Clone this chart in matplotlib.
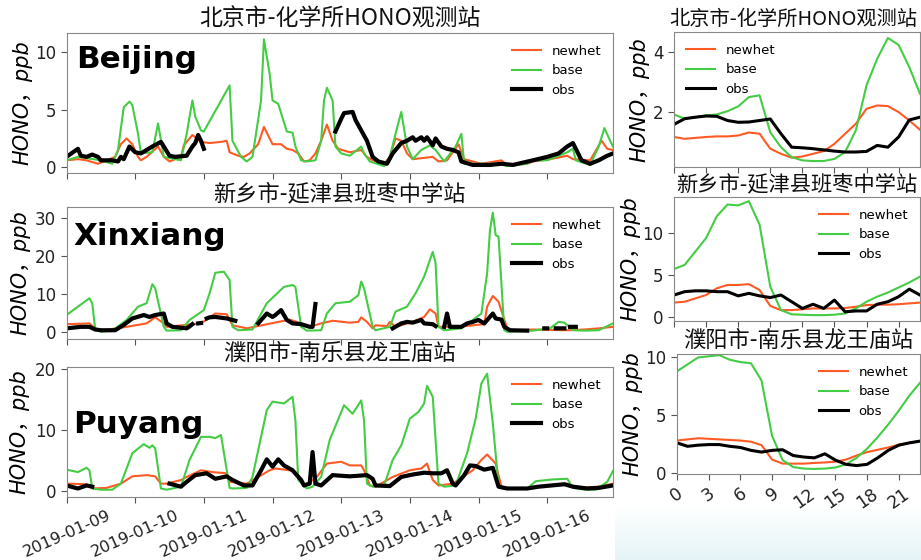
import numpy as np
import pandas as pd
import matplotlib
matplotlib.use("Agg")
import matplotlib.pyplot as plt
import matplotlib.dates as mdates

plt.rcParams['font.family'] = ['DejaVu Sans', 'Noto Sans CJK SC']
plt.rcParams['axes.unicode_minus'] = False

nan = np.nan
START = pd.Timestamp('2019-01-09 00:00')

# ---- hourly series (hours since 2019-01-09 00:00) ----
bj_base_h = [0, 4, 12, 16, 18, 20, 22, 23, 25, 26, 30, 32, 34, 40, 42, 44, 45, 47, 48, 57, 58, 61, 63, 65,
             68, 69, 71, 72, 74, 75, 77, 79, 80, 82, 84, 87, 89, 90, 91, 93, 94, 96, 99, 103, 104, 106,
             111, 113, 115, 117, 119, 121, 124, 127, 129, 132, 136, 138, 139, 145, 152, 154, 161, 163,
             168, 175, 177, 178, 183, 186, 188, 190, 191]
bj_base_v = [0.6, 0.9, 0.6, 0.3, 1.5, 5.2, 5.7, 5.4, 2.9, 1.2, 1.3, 3.8, 0.9, 0.6, 2.9, 5.8, 4.4, 3.2, 3.1, 7.1,
             2.3, 0.9, 0.5, 0.9, 5.8, 11.1, 8.1, 5.8, 5.5, 4.7, 3.1, 3.0, 1.8, 0.6, 0.5, 0.6, 2.3, 5.8, 6.9,
             5.8, 1.8, 1.2, 1.0, 1.8, 1.2, 0.5, 0.1, 0.9, 2.9, 4.8, 1.8, 0.7, 1.5, 1.9, 1.5, 0.5, 1.8, 2.9,
             0.3, 0.3, 0.3, 0.1, 0.3, 0.6, 0.6, 1.3, 1.6, 0.6, 0.2, 1.8, 3.4, 2.3, 1.8]
bj_new_h = [0, 4, 7, 11, 14, 17, 19, 21, 23, 25, 26, 28, 32, 34, 36, 40, 41, 44, 47, 50, 54, 56, 57, 60, 62,
            64, 67, 69, 72, 75, 77, 79, 81, 83, 85, 87, 89, 91, 93, 95, 99, 103, 105, 107, 111, 113, 115,
            117, 119, 121, 128, 130, 133, 137, 139, 145, 152, 154, 161, 163, 169, 175, 177, 183, 187, 189, 191]
bj_new_v = [0.6, 0.7, 0.6, 0.3, 0.6, 0.9, 2.0, 2.5, 2.0, 0.9, 0.6, 0.9, 1.8, 0.9, 0.5, 0.9, 1.9, 2.8, 2.2,
            2.1, 2.2, 2.3, 1.3, 1.0, 0.9, 1.2, 2.0, 3.5, 2.0, 2.0, 1.6, 1.5, 1.2, 0.5, 0.6, 1.2, 2.3, 3.7,
            2.3, 1.6, 1.3, 1.5, 0.9, 0.6, 0.3, 0.9, 2.5, 2.3, 1.2, 0.7, 0.9, 0.5, 0.6, 2.0, 0.7, 0.3, 0.6,
            0.2, 0.3, 0.5, 0.7, 1.0, 0.7, 0.6, 2.3, 1.6, 1.5]
bj_obs_h = [0, 4, 5, 7, 9, 11, 12, 16, 18, 19, 20, 22, 24, 26, 28, 30, 33, 34, 36, 38, 42, 44, 45, 46, 47,
            48, 49, 93, 94, 96, 97, 100, 101, 103, 105, 107, 109, 112, 114, 116, 117, 119, 121, 122, 124,
            125, 126, 128, 129, 131, 133, 135, 137, 138, 142, 148, 152, 156, 163, 168, 172, 175, 177, 178,
            180, 183, 186, 189, 191]
bj_obs_v = [0.9, 1.6, 1.0, 0.9, 1.1, 0.9, 0.6, 0.6, 0.5, 0.9, 0.7, 1.8, 1.3, 1.2, 1.5, 1.8, 2.2, 1.8, 1.0,
            0.9, 1.0, 1.8, 2.1, 2.8, 2.3, 1.6, nan, nan, 3.1, 4.2, 4.7, 4.8, 4.1, 3.2, 2.3, 0.9, 0.5, 0.3,
            1.2, 1.8, 2.1, 2.3, 2.6, 2.3, 2.6, 2.3, 2.6, 1.9, 2.5, 1.8, 1.6, 1.5, 1.3, 0.5, 0.2, 0.2, 0.3,
            0.2, 0.6, 0.9, 1.2, 1.8, 2.1, 1.6, 0.6, 0.3, 0.6, 1.0, 1.2]

xx_base_h = [0, 8, 9, 10, 12, 16, 21, 25, 28, 30, 31, 34, 35, 40, 43, 48, 50, 52, 55, 57, 58, 60, 65, 70,
             76, 79, 80, 82, 84, 89, 91, 94, 99, 102, 103, 104, 107, 108, 113, 115, 119, 122, 125, 128,
             129, 130, 132, 138, 142, 145, 147, 148, 149, 150, 151, 153, 154, 163, 169, 172, 174, 177,
             181, 186, 191]
xx_base_v = [4.5, 8.9, 7.6, 1.0, 0.1, 0.4, 3.2, 6.7, 7.6, 12.6, 11.5, 1.4, 0.4, 0.5, 3.2, 5.8, 10.2, 15.6,
             15.9, 13.7, 1.4, 0.5, 0.7, 7.6, 11.9, 12.4, 11.9, 1.4, 0.4, 0.5, 4.9, 7.6, 8.0, 9.7, 13.3,
             11.5, 1.4, 0.5, 1.4, 5.4, 6.7, 10.2, 14.6, 21.1, 18.1, 1.4, 0.5, 1.0, 3.2, 4.9, 15.4, 26.8,
             31.4, 25.5, 25.1, 0.5, 0.1, 0.4, 1.0, 2.7, 2.5, 0.5, 0.4, 0.5, 2.3]
xx_new_h = [0, 8, 10, 12, 21, 28, 31, 34, 35, 47, 52, 56, 58, 63, 78, 82, 85, 89, 93, 99, 102, 103, 105,
            107, 108, 112, 113, 115, 121, 125, 127, 129, 130, 137, 142, 146, 147, 149, 151, 154, 156, 163,
            175, 181, 186, 191]
xx_new_v = [2.1, 2.3, 1.0, 0.4, 1.4, 2.3, 3.9, 2.3, 1.4, 2.3, 4.9, 4.7, 1.8, 1.0, 3.3, 2.3, 1.4, 2.3, 3.0,
            2.5, 2.7, 3.9, 2.7, 1.0, 1.8, 1.6, 2.7, 1.4, 2.7, 4.0, 6.0, 4.9, 1.4, 1.4, 1.8, 2.1, 6.7, 9.5,
            8.0, 1.0, 0.4, 0.7, 0.5, 0.7, 1.0, 1.4]
xx_obs_h = [0, 5, 8, 10, 12, 17, 20, 23, 27, 29, 31, 34, 35, 37, 42, 43, 44, 45, 46, 47, 48, 49, 50, 52,
            56, 59, 60, 67, 70, 72, 73, 75, 77, 79, 82, 85, 86, 87, 88, 114, 117, 119, 121, 124, 125, 128,
            129, 130, 132, 133, 134, 138, 140, 142, 144, 146, 149, 150, 152, 153, 155, 161, 162, 167, 168,
            169, 171, 174, 175, 176, 178, 179]
xx_obs_v = [1.0, 1.4, 1.4, 0.7, 0.5, 0.5, 1.9, 3.6, 4.5, 4.0, 4.5, 4.9, 2.3, 1.4, 1.0, 1.5, 2.1, nan, 2.3,
            2.4, nan, 3.6, 3.9, 4.0, 3.6, 3.0, nan, 2.3, 4.9, 4.0, 4.5, 5.8, 3.2, 2.3, 2.1, 1.4, 1.4, 7.4,
            nan, 1.0, 2.3, 2.7, 2.5, 3.2, 2.3, 2.1, 1.6, nan, 1.4, 4.9, 1.4, 1.4, 2.3, 2.7, 3.2, 2.3, 4.9,
            3.6, 3.3, 1.4, 0.5, 0.4, nan, 1.0, 1.0, nan, 1.0, 1.0, nan, 1.4, 1.4, nan]

py_base_h = [0, 4, 7, 8, 9, 12, 16, 19, 23, 27, 29, 30, 31, 33, 35, 40, 43, 47, 50, 52, 54, 56, 57, 58, 63,
             65, 70, 72, 76, 79, 80, 81, 84, 86, 89, 92, 97, 100, 103, 104, 105, 107, 111, 114, 117, 120,
             123, 125, 126, 128, 130, 132, 136, 140, 143, 145, 147, 149, 151, 153, 161, 164, 170, 175, 177,
             181, 185, 189, 191]
py_base_v = [3.5, 3.1, 3.8, 3.4, 0.4, 0.2, 0.2, 1.2, 6.2, 7.7, 7.1, 7.5, 7.0, 0.4, 0.2, 0.7, 5.1, 8.9, 8.9,
             8.7, 9.2, 3.4, 0.5, 0.4, 0.5, 2.3, 13.3, 14.7, 14.4, 15.5, 11.6, 1.8, 0.4, 0.7, 2.3, 8.4, 14.1,
             12.7, 14.9, 11.6, 1.2, 0.7, 0.9, 5.1, 7.5, 11.9, 13.0, 14.4, 17.3, 15.5, 1.2, 0.7, 0.9, 6.2,
             11.9, 17.7, 19.3, 11.1, 0.9, 0.4, 0.4, 1.6, 1.9, 2.0, 0.5, 0.2, 0.2, 1.5, 3.3]
py_new_h = [0, 7, 9, 14, 19, 23, 28, 31, 33, 35, 40, 42, 47, 51, 56, 57, 63, 66, 71, 73, 78, 79, 82, 83,
            85, 87, 91, 96, 99, 103, 104, 106, 108, 114, 120, 124, 126, 128, 130, 135, 142, 145, 147, 150,
            152, 155, 163, 175, 178, 186, 191]
py_new_v = [1.2, 1.1, 0.4, 0.5, 1.2, 2.4, 2.6, 2.4, 1.2, 1.2, 1.8, 2.3, 3.4, 3.1, 2.9, 1.5, 1.2, 2.0, 3.4,
            3.7, 3.4, 3.3, 1.5, 0.9, 1.5, 2.0, 4.5, 4.8, 4.2, 4.2, 3.4, 0.9, 0.7, 2.3, 3.4, 3.7, 4.5, 1.8,
            0.9, 1.2, 3.4, 5.1, 6.0, 4.5, 0.7, 0.4, 0.5, 1.2, 0.5, 0.7, 1.2]
py_obs_h = [0, 4, 7, 9, 10, 36, 40, 42, 45, 49, 52, 56, 58, 62, 65, 68, 70, 72, 74, 76, 79, 82, 83, 85, 86,
            87, 89, 93, 99, 105, 107, 108, 113, 117, 121, 125, 128, 131, 133, 135, 136, 139, 141, 143, 146,
            149, 151, 154, 161, 165, 174, 177, 182, 186, 191]
py_obs_v = [0.9, 0.4, 0.9, 0.7, nan, 1.2, 0.7, 1.5, 2.6, 2.9, 2.0, 2.4, 1.8, 0.9, 0.9, 3.4, 5.2, 4.0, 5.2,
            4.2, 3.4, 1.8, 0.9, 1.2, 6.4, 1.2, 0.9, 2.6, 2.4, 2.6, 2.0, 0.9, 0.8, 2.3, 2.7, 3.0, 2.9, 2.9,
            3.4, 1.2, 0.9, 2.6, 4.2, 4.1, 3.5, 3.8, 0.7, 0.4, 0.4, 0.7, 1.1, 0.7, 0.4, 0.5, 0.9]

# ---- diurnal means, hour 0..23 ----
hours = list(range(24))
bj_d_new = [1.17, 1.11, 1.14, 1.17, 1.19, 1.19, 1.22, 1.32, 1.28, 0.78, 0.61, 0.48, 0.52, 0.61, 0.70,
            0.94, 1.28, 1.61, 2.11, 2.22, 2.20, 2.00, 1.72, 1.41]
bj_d_base = [1.92, 1.78, 1.83, 1.89, 1.92, 2.03, 2.19, 2.50, 2.56, 1.33, 0.83, 0.50, 0.39, 0.37, 0.37,
             0.44, 0.67, 1.39, 2.89, 3.78, 4.47, 4.24, 3.50, 2.61]
bj_d_obs = [1.59, 1.78, 1.83, 1.87, 1.86, 1.72, 1.66, 1.67, 1.72, 1.77, 1.28, 0.83, 0.81, 0.78, 0.74,
            0.70, 0.67, 0.67, 0.69, 0.89, 0.83, 1.17, 1.74, 1.83]
xx_d_new = [1.7, 1.8, 2.2, 2.6, 3.4, 3.8, 3.8, 3.9, 3.2, 1.3, 0.8, 0.8, 0.9, 1.0, 1.0, 1.0, 1.05, 1.2,
            1.4, 1.45, 1.45, 1.5, 1.6, 1.7]
xx_d_base = [5.7, 6.2, 7.8, 9.4, 12.0, 13.4, 13.3, 13.8, 11.0, 3.6, 0.8, 0.3, 0.25, 0.2, 0.2, 0.25, 0.4,
             1.0, 1.8, 2.4, 2.9, 3.5, 4.1, 4.8]
xx_d_obs = [2.6, 3.0, 3.1, 3.1, 3.0, 3.0, 2.5, 2.8, 2.5, 2.3, 2.6, 1.8, 1.0, 1.5, 1.0, 2.0, 0.6, 0.7, 0.7,
            1.5, 1.8, 2.4, 3.3, 2.6]
py_d_new = [2.8, 2.9, 3.0, 2.95, 2.9, 2.85, 2.8, 2.7, 2.4, 1.15, 0.8, 0.8, 0.8, 0.86, 0.9, 0.97, 1.15,
            1.5, 1.8, 2.0, 2.2, 2.45, 2.6, 2.75]
py_d_base = [8.8, 9.4, 10.0, 10.1, 10.2, 9.8, 9.6, 9.5, 8.0, 3.2, 1.1, 0.5, 0.37, 0.34, 0.37, 0.46, 0.74,
             1.3, 2.1, 3.1, 4.2, 5.4, 6.7, 7.8]
py_d_obs = [2.6, 2.3, 2.4, 2.45, 2.45, 2.3, 2.2, 1.95, 1.8, 1.95, 2.0, 1.5, 1.37, 1.3, 1.65, 1.1, 0.74,
            0.63, 0.74, 1.3, 1.95, 2.4, 2.6, 2.75]

titles_bj = '北京市-化学所HONO观测站'
titles_xx = '新乡市-延津县班枣中学站'
titles_py = '濮阳市-南乐县龙王庙站'
city_names = ['Beijing', 'Xinxiang', 'Puyang']

C_NEW = '#ff5a24'
C_BASE = '#44cc44'
C_OBS = 'black'
W, H = 921, 560
CJK = ['Noto Sans CJK SC', 'DejaVu Sans']


def box(l, t, r, b):
    return [l / W, 1 - b / H, (r - l) / W, (b - t) / H]


def to_time(h):
    return START + pd.to_timedelta(np.array(h, dtype=float), unit='h')


def style(ax, title, tsize, labx, tx=0.5):
    for s in ax.spines.values():
        s.set_color('#888888')
    ax.tick_params(colors='#555555', labelcolor='#222222', labelsize=12, length=4)
    ax.set_title(title, family=CJK, fontsize=tsize, pad=5, color='#111111', x=tx)
    ax.set_ylabel('HONO，ppb', fontsize=15, style='italic', family=['DejaVu Sans', 'Noto Sans CJK SC'])
    ax.yaxis.set_label_coords(labx, 0.5)


fig = plt.figure(figsize=(W / 100, H / 100), dpi=100)

# faint gradient at the bottom right
gax = fig.add_axes(box(615, 505, 921, 560), zorder=-5)
grad = np.linspace(0, 1, 50)[:, None, None]
top_c = np.array([1.0, 1.0, 1.0])
bot_c = np.array([0.90, 0.955, 0.965])
gax.imshow(top_c + (bot_c - top_c) * grad, aspect='auto', extent=[0, 1, 0, 1], origin='upper')
gax.axis('off')

left_boxes = [box(66.5, 33, 613, 173), box(66.5, 207, 613, 339), box(66.5, 367, 613, 497)]
left_data = [
    (bj_new_h, bj_new_v, bj_base_h, bj_base_v, bj_obs_h, bj_obs_v),
    (xx_new_h, xx_new_v, xx_base_h, xx_base_v, xx_obs_h, xx_obs_v),
    (py_new_h, py_new_v, py_base_h, py_base_v, py_obs_h, py_obs_v),
]
left_ylim = [(-0.5, 11.65), (-1.8, 32.9), (-1.0, 20.4)]
left_yticks = [[0, 5, 10], [0, 10, 20, 30], [0, 10, 20]]
left_titles = [(titles_bj, 16.5), (titles_xx, 16), (titles_py, 16.2)]
left_labx = [-0.062, -0.066, -0.068]
name_pos = [(76, 68), (73, 245), (73, 433)]

for i in range(3):
    ax = fig.add_axes(left_boxes[i])
    nh, nv, bh, bv, oh, ov = left_data[i]
    ax.plot(to_time(nh), nv, color=C_NEW, lw=1.5, label='newhet')
    ax.plot(to_time(bh), bv, color=C_BASE, lw=1.5, label='base')
    ax.plot(to_time(oh), ov, color=C_OBS, lw=3, label='obs')
    ax.set_xlim(START, START + pd.Timedelta(hours=191))
    ax.set_ylim(*left_ylim[i])
    ax.set_yticks(left_yticks[i])
    ax.xaxis.set_major_locator(mdates.DayLocator())
    ax.xaxis.set_major_formatter(mdates.DateFormatter('%Y-%m-%d'))
    style(ax, left_titles[i][0], left_titles[i][1], left_labx[i])
    if i < 2:
        ax.tick_params(axis='x', labelbottom=False)
    else:
        plt.setp(ax.get_xticklabels(), rotation=24, ha='center', fontsize=11.7)
    ax.legend(loc='upper right', frameon=False, fontsize=9.5, handlelength=2.2)
    fig.text(name_pos[i][0] / W, 1 - name_pos[i][1] / H, city_names[i], fontsize=22.3,
             fontweight='bold', color='black', va='baseline', ha='left')

right_boxes = [box(674, 32, 920, 167), box(674, 197, 920, 321), box(677, 354, 920, 474)]
right_data = [
    (bj_d_new, bj_d_base, bj_d_obs),
    (xx_d_new, xx_d_base, xx_d_obs),
    (py_d_new, py_d_base, py_d_obs),
]
right_ylim = [(0.17, 4.67), (-0.5, 14.3), (-0.1, 10.3)]
right_yticks = [[2, 4], [0, 5, 10], [0, 5, 10]]
right_titles = [(titles_bj, 14.6, 0.485), (titles_xx, 15.3, 0.5), (titles_py, 16, 0.5)]
right_labx = [-0.098, -0.138, -0.144]
right_leg = ['upper left', 'upper right', 'upper right']

for i in range(3):
    ax = fig.add_axes(right_boxes[i])
    nv, bv, ov = right_data[i]
    ax.plot(hours, nv, color=C_NEW, lw=1.5, label='newhet')
    ax.plot(hours, bv, color=C_BASE, lw=1.5, label='base')
    ax.plot(hours, ov, color=C_OBS, lw=2.2, label='obs')
    ax.set_xlim(0, 23)
    ax.set_ylim(*right_ylim[i])
    ax.set_yticks(right_yticks[i])
    ax.set_xticks(range(0, 24, 3))
    style(ax, right_titles[i][0], right_titles[i][1], right_labx[i], right_titles[i][2])
    if i < 2:
        ax.tick_params(axis='x', labelbottom=False)
    else:
        plt.setp(ax.get_xticklabels(), rotation=35, ha='center', fontsize=12.5)
    ax.legend(loc=right_leg[i], frameon=False, fontsize=9.5, handlelength=2.2)

fig.savefig('out.png', dpi=100)
